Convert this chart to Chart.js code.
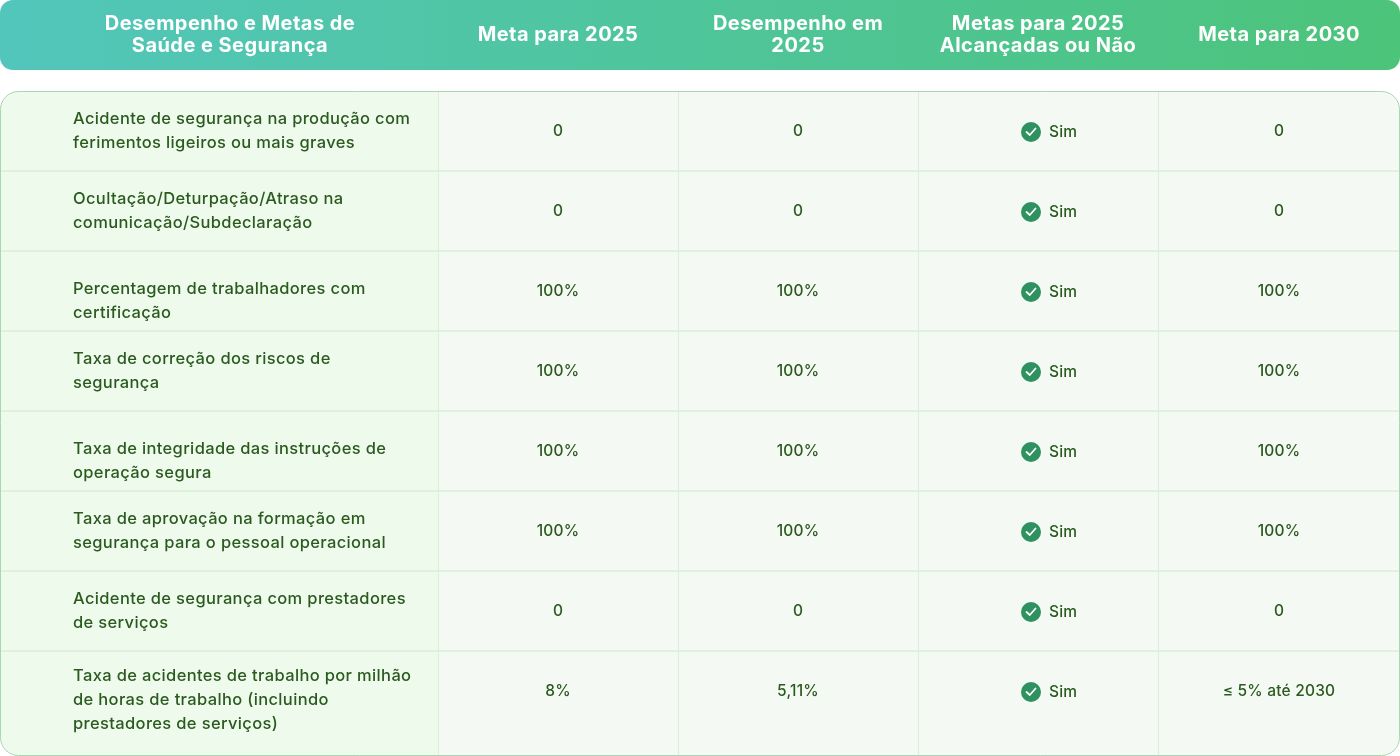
<!DOCTYPE html>
<html>
<head>
<meta charset="utf-8">
<script src="https://cdn.jsdelivr.net/npm/chart.js@4.4.1/dist/chart.umd.min.js"></script>
<style>
  html, body { margin: 0; padding: 0; background: #ffffff; }
  #wrap { width: 1400px; height: 756px; }
</style>
</head>
<body>
<div id="wrap"><canvas id="tableChart" width="1400" height="756"></canvas></div>
<script>
// Table content
const headers = [
    ['Desempenho e Metas de', 'Saúde e Segurança'],
    ['Meta para 2025'],
    ['Desempenho em', '2025'],
    ['Metas para 2025', 'Alcançadas ou Não'],
    ['Meta para 2030']
];
const metrics = [
    ['Acidente de segurança na produção com', 'ferimentos ligeiros ou mais graves'],
    ['Ocultação/Deturpação/Atraso na', 'comunicação/Subdeclaração'],
    ['Percentagem de trabalhadores com', 'certificação'],
    ['Taxa de correção dos riscos de', 'segurança'],
    ['Taxa de integridade das instruções de', 'operação segura'],
    ['Taxa de aprovação na formação em', 'segurança para o pessoal operacional'],
    ['Acidente de segurança com prestadores', 'de serviços'],
    ['Taxa de acidentes de trabalho por milhão', 'de horas de trabalho (incluindo', 'prestadores de serviços)']
];
const target2025 = ['0', '0', '100%', '100%', '100%', '100%', '0', '8%'];
const actual2025 = ['0', '0', '100%', '100%', '100%', '100%', '0', '5,11%'];
const achieved = ['Sim', 'Sim', 'Sim', 'Sim', 'Sim', 'Sim', 'Sim', 'Sim'];
const target2030 = ['0', '0', '100%', '100%', '100%', '100%', '0', '≤ 5% até 2030'];

// Layout (in scale units, the chart scales map 1:1 to the canvas)
const colEdges = [0, 438, 678, 918, 1158, 1400];
const rowEdges = [91, 171, 251, 331, 411, 491, 571, 651, 755];
const metricShift = [0, 0, 10, 0, 10, 0, 0, -3];
const valueShift = [1, 1, 1, 1, 1, 1, 1, -11];
const headerBottom = 70;
const FONT = 'Inter, "Noto Sans", sans-serif';

function mid(arr, i) { return (arr[i] + arr[i + 1]) / 2; }

function cellPoints(col) {
    return metrics.map((m, i) => ({ x: mid(colEdges, col), y: mid(rowEdges, i) }));
}

const valueColumns = [target2025, actual2025, achieved, target2030];

function roundRect(ctx, x, y, w, h, r) {
    ctx.beginPath();
    ctx.moveTo(x + r, y);
    ctx.lineTo(x + w - r, y);
    ctx.arcTo(x + w, y, x + w, y + r, r);
    ctx.lineTo(x + w, y + h - r);
    ctx.arcTo(x + w, y + h, x + w - r, y + h, r);
    ctx.lineTo(x + r, y + h);
    ctx.arcTo(x, y + h, x, y + h - r, r);
    ctx.lineTo(x, y + r);
    ctx.arcTo(x, y, x + r, y, r);
    ctx.closePath();
}

const tablePlugin = {
    id: 'tablePlugin',
    beforeDatasetsDraw(chart) {
        const ctx = chart.ctx;
        const xs = chart.scales.x, ys = chart.scales.y;
        const px = v => xs.getPixelForValue(v);
        const py = v => ys.getPixelForValue(v);

        ctx.save();
        // header band
        const hx0 = px(colEdges[0]), hx1 = px(colEdges[colEdges.length - 1]);
        const grad = ctx.createLinearGradient(hx0, 0, hx1, 0);
        grad.addColorStop(0, '#52c6bb');
        grad.addColorStop(1, '#4cc47a');
        roundRect(ctx, hx0, py(0), hx1 - hx0, py(headerBottom) - py(0), 13);
        ctx.fillStyle = grad;
        ctx.fill();

        // body
        const top = py(rowEdges[0]), bottom = py(rowEdges[rowEdges.length - 1]);
        roundRect(ctx, hx0 + 0.5, top + 0.5, hx1 - hx0 - 1, bottom - top, 18);
        ctx.fillStyle = '#f4faf3';
        ctx.fill();
        ctx.save();
        ctx.clip();
        ctx.fillStyle = '#eefaec';
        ctx.fillRect(hx0, top, px(colEdges[1]) - hx0, bottom - top);
        ctx.strokeStyle = '#d9efd6';
        ctx.lineWidth = 1.5;
        for (let i = 1; i < rowEdges.length - 1; i++) {
            ctx.beginPath();
            ctx.moveTo(hx0, py(rowEdges[i]));
            ctx.lineTo(hx1, py(rowEdges[i]));
            ctx.stroke();
        }
        ctx.lineWidth = 1;
        for (let i = 1; i < colEdges.length - 1; i++) {
            ctx.beginPath();
            ctx.moveTo(px(colEdges[i]) + 0.5, top);
            ctx.lineTo(px(colEdges[i]) + 0.5, bottom);
            ctx.stroke();
        }
        ctx.restore();
        roundRect(ctx, hx0 + 0.5, top + 0.5, hx1 - hx0 - 1, bottom - top, 18);
        ctx.strokeStyle = '#a9d6b3';
        ctx.lineWidth = 1;
        ctx.stroke();

        // header text
        ctx.fillStyle = '#ffffff';
        ctx.font = '700 20px ' + FONT;
        ctx.letterSpacing = '0.45px';
        ctx.textAlign = 'center';
        ctx.textBaseline = 'middle';
        headers.forEach((lines, c) => {
            const cx = c === 0 ? px(230) : px(mid(colEdges, c));
            const cy = py(headerBottom / 2);
            lines.forEach((t, k) => {
                ctx.fillText(t, cx, cy + (k - (lines.length - 1) / 2) * 22);
            });
        });
        ctx.restore();
    },
    afterDatasetsDraw(chart) {
        const ctx = chart.ctx;
        ctx.save();
        ctx.fillStyle = '#2b5a1f';
        ctx.textBaseline = 'middle';
        // first column: metric names
        const m0 = chart.getDatasetMeta(0);
        ctx.font = '500 16.5px ' + FONT;
        ctx.letterSpacing = '0.35px';
        ctx.textAlign = 'left';
        m0.data.forEach((pt, i) => {
            const lines = metrics[i];
            const x = chart.scales.x.getPixelForValue(73);
            lines.forEach((t, k) => {
                ctx.fillText(t, x, pt.y + metricShift[i] + (k - (lines.length - 1) / 2) * 24);
            });
        });
        // value columns
        ctx.font = '500 15.5px ' + FONT;
        ctx.letterSpacing = '0.2px';
        for (let d = 1; d < chart.data.datasets.length; d++) {
            const meta = chart.getDatasetMeta(d);
            const vals = valueColumns[d - 1];
            meta.data.forEach((pt, i) => {
                const y = pt.y + valueShift[i];
                if (vals === achieved) {
                    const cx = pt.x - 7;
                    ctx.beginPath();
                    ctx.arc(cx, y, 10, 0, Math.PI * 2);
                    ctx.fillStyle = '#2e915f';
                    ctx.fill();
                    ctx.beginPath();
                    ctx.moveTo(cx - 4.5, y);
                    ctx.lineTo(cx - 1.2, y + 3);
                    ctx.lineTo(cx + 4.5, y - 3.5);
                    ctx.strokeStyle = '#ffffff';
                    ctx.lineWidth = 1.8;
                    ctx.lineCap = 'round';
                    ctx.lineJoin = 'round';
                    ctx.stroke();
                    ctx.fillStyle = '#2b5a1f';
                    ctx.textAlign = 'left';
                    ctx.fillText(vals[i], pt.x + 11, y);
                } else {
                    ctx.textAlign = 'center';
                    ctx.fillText(vals[i], pt.x, y - 1);
                }
            });
        }
        ctx.restore();
    }
};

const datasets = [{ label: 'metric', data: cellPoints(0), pointRadius: 0 }]
    .concat(valueColumns.map((v, k) => ({ label: 'col' + (k + 1), data: cellPoints(k + 1), pointRadius: 0 })));

new Chart(document.getElementById('tableChart').getContext('2d'), {
    type: 'scatter',
    data: { datasets: datasets },
    options: {
        responsive: false,
        animation: false,
        events: [],
        layout: { padding: 0 },
        plugins: { legend: { display: false }, tooltip: { enabled: false } },
        scales: {
            x: { type: 'linear', min: 0, max: 1400, display: false },
            y: { type: 'linear', min: 0, max: 756, reverse: true, display: false }
        }
    },
    plugins: [tablePlugin]
});
</script>
</body>
</html>
